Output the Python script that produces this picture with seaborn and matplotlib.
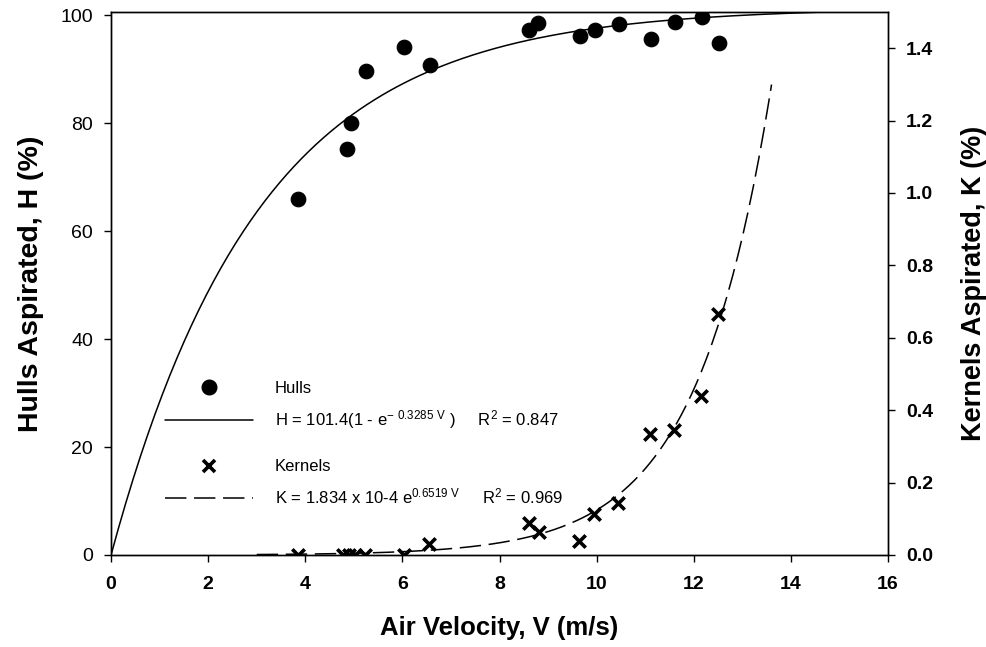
import numpy as np
import pandas as pd
import seaborn as sns
import matplotlib.pyplot as plt
from matplotlib.lines import Line2D

# measured points
hull_v = [3.85, 4.85, 4.95, 5.25, 6.04, 6.56, 8.61, 8.80, 9.66, 9.96, 10.45, 11.11, 11.61, 12.16, 12.52]
hull_h = [65.9, 75.2, 80.1, 89.7, 94.1, 90.7, 97.2, 98.6, 96.2, 97.3, 98.3, 95.5, 98.8, 99.6, 94.8]

kern_v = [3.85, 4.78, 4.90, 5.02, 5.23, 6.03, 6.54, 8.60, 8.81, 9.64, 9.94, 10.44, 11.10, 11.60, 12.15, 12.50]
kern_k = [0.0, 0.0, 0.0, 0.0, 0.0, 0.0, 0.030, 0.089, 0.064, 0.039, 0.113, 0.143, 0.333, 0.345, 0.439, 0.667]

# fitted models (coefficients as printed on the chart)
h_a, h_b = 101.4, 0.3285
k_a, k_b = 1.834e-4, 0.6519
h_range = (0, 15)
k_range = (3, 13.6)

hull_label = r"H = 101.4(1 - e$^{-\ 0.3285\ V}$ )     R$^{2}$ = 0.847"
kern_label = r"K = 1.834 x 10-4 e$^{0.6519\ V}$     R$^{2}$ = 0.969"

sns.set_style("ticks")
plt.rcParams['font.family'] = ['Liberation Sans', 'DejaVu Sans']
plt.rcParams['mathtext.default'] = 'regular'
plt.rcParams.update({'text.color': 'black', 'axes.labelcolor': 'black',
                     'xtick.color': 'black', 'ytick.color': 'black'})

fig = plt.figure(figsize=(9.87, 6.47), dpi=100)
ax = fig.add_axes([0.1125, 0.1422, 0.7873, 0.8393])
ax2 = ax.twinx()

df_h = pd.DataFrame({"V": hull_v, "H": hull_h})
df_k = pd.DataFrame({"V": kern_v, "K": kern_k})

vh = np.linspace(*h_range, 200)
vk = np.linspace(*k_range, 200)
fit_h = pd.DataFrame({"V": vh, "H": h_a * (1 - np.exp(-h_b * vh))})
fit_k = pd.DataFrame({"V": vk, "K": k_a * np.exp(k_b * vk)})

sns.lineplot(data=fit_h, x="V", y="H", ax=ax, color="black", lw=1.1)
sns.scatterplot(data=df_h, x="V", y="H", ax=ax, color="black", s=110,
                marker="o", edgecolor="black", zorder=3)

sns.lineplot(data=fit_k, x="V", y="K", ax=ax2, color="black", lw=1.1)
ax2.lines[-1].set_dashes((14, 5))
sns.scatterplot(data=df_k, x="V", y="K", ax=ax2, color="black", s=80,
                marker="x", linewidth=2.6, zorder=3)

ax.set_xlim(0, 16)
ax.set_ylim(0, 100.6)
ax2.set_ylim(0, 1.5)
ax.set_xticks(range(0, 17, 2))
ax.set_yticks(range(0, 101, 20))
ax2.set_yticks(np.arange(0, 1.41, 0.2))
ax2.set_yticklabels([f"{t:.1f}" for t in np.arange(0, 1.41, 0.2)])

for a in (ax, ax2):
    for s in a.spines.values():
        s.set_visible(True)
        s.set_linewidth(1.0)
        s.set_color("black")

ax.tick_params(axis='y', direction='out', length=5, width=1, labelsize=14, pad=8,
               colors='black')
ax.tick_params(axis='x', direction='out', length=5, width=1, labelsize=14, pad=10,
               colors='black')
ax2.tick_params(axis='y', direction='out', length=5, width=1, labelsize=14, pad=8,
                colors='black')
for t in ax.get_xticklabels() + ax2.get_yticklabels():
    t.set_fontweight('bold')

ax.set_xlabel("Air Velocity, V (m/s)", fontsize=18.5, fontweight='bold', labelpad=17,
              color='black')
ax.set_ylabel("Hulls Aspirated, H (%)", fontsize=20.5, fontweight='bold', labelpad=12,
              color='black')
ax2.set_ylabel("Kernels Aspirated, K (%)", fontsize=19.5, fontweight='bold', labelpad=20,
               color='black')

# legend in two groups
h1 = [Line2D([], [], ls='none', marker='o', ms=10.5, color='black'),
      Line2D([], [], color='black', lw=1.1)]
h2 = [Line2D([], [], ls='none', marker='x', ms=9, mew=2.6, color='black'),
      Line2D([], [], color='black', lw=1.1, dashes=(14, 5))]
leg_kw = dict(frameon=False, fontsize=12, handlelength=5.3, handletextpad=1.3,
              labelspacing=0.75, borderpad=0, borderaxespad=0, loc='upper left',
              labelcolor='black')
leg1 = ax2.legend(h1, ["Hulls", hull_label], bbox_to_anchor=(0.0695, 0.321), **leg_kw)
ax2.add_artist(leg1)
ax2.legend(h2, ["Kernels", kern_label], bbox_to_anchor=(0.0695, 0.176), **leg_kw)

fig.savefig("out.png", dpi=100)
